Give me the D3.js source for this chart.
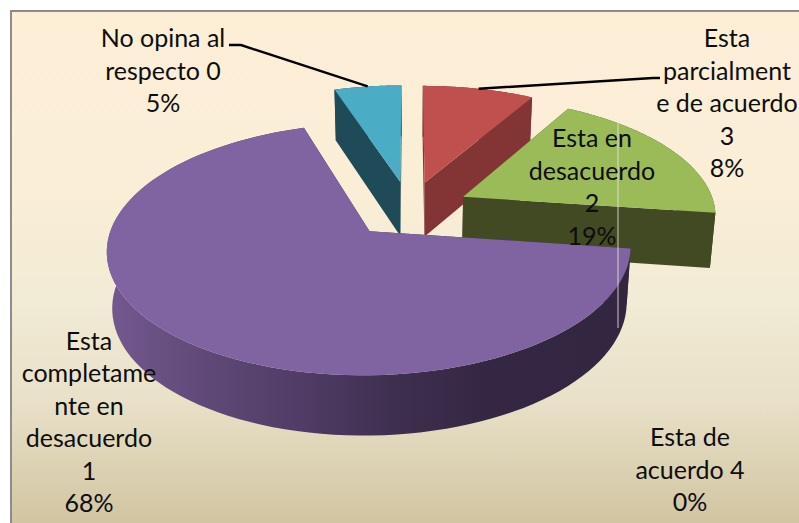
<!DOCTYPE html>
<html><head><meta charset="utf-8">
<script src="https://cdn.jsdelivr.net/npm/d3@7"></script>
<style>html,body{margin:0;padding:0;background:#fff}svg{display:block}text{font-family:Lato,"Open Sans",sans-serif;font-size:25px;fill:#0d0d0d;text-anchor:middle}</style>
</head><body><svg id="c" width="799" height="523"></svg>
<script>
const categories = ["No opina al respecto 0","Esta parcialmente de acuerdo 3","Esta en desacuerdo 2","Esta completamente en desacuerdo 1","Esta de acuerdo 4"];
const values = [5, 8.3, 18.9, 67.8, 0];
const topColors = ["#4BACC6","#C0504D","#9BBB59","#8064A2","#F79646"];
const wallColors = ["#1F4A57","#833535","#424A24","#3A2C4C","#8A5220"];
const labelLines = [
  ["No opina al","respecto 0","5%"],
  ["Esta","parcialment","e de acuerdo","3","8%"],
  ["Esta en","desacuerdo","2","19%"],
  ["Esta","completame","nte en","desacuerdo","1","68%"],
  ["Esta de","acuerdo 4","0%"]
];
const labelAnchors = [[163,47],[727,47],[592,147],[89,349.5],[690,446]];
const lineHeight = 32.5;

const W = 799, H = 523;
const rad = Math.PI/180;
const svg = d3.select("#c");
const defs = svg.append("defs");
const bg = defs.append("linearGradient").attr("id","bg").attr("x1",0).attr("x2",0).attr("y1",0).attr("y2",1);
[[0,"#FDEFD6"],[0.32,"#FBEED6"],[0.55,"#F2EBD5"],[0.75,"#E8E0C7"],[1,"#CFC29E"]].forEach(s=>bg.append("stop").attr("offset",s[0]).attr("stop-color",s[1]));
const wg = defs.append("linearGradient").attr("id","wall3").attr("gradientUnits","userSpaceOnUse").attr("x1",110).attr("x2",630).attr("y1",0).attr("y2",0);
[[0,"#73588F"],[0.2,"#5E4876"],[0.37,"#503C66"],[0.55,"#3E2F4E"],[0.72,"#342744"],[1,"#332640"]].forEach(s=>wg.append("stop").attr("offset",s[0]).attr("stop-color",s[1]));

svg.append("rect").attr("x",11).attr("y",11).attr("width",W).attr("height",H).attr("fill","url(#bg)").attr("stroke","#8C8C8C").attr("stroke-width",2);

// perspective projection of the pie plane
const cx=409.5, cy=209, Rx=252.5, Ry=117.2, persp=0.14, explode=0.24, depth=55, shrink=0.982;
const s = Y => 1/(1+persp*Y);
const topPt = (X,Y) => [cx+Rx*X*s(Y), cy-Ry*Y*s(Y)];
const botPt = (X,Y) => [cx+shrink*Rx*X*s(Y), cy-Ry*Y*s(Y)+depth*Math.sqrt(s(Y))];

const pie = d3.pie().sort(null).value(d=>d).startAngle(-18*rad).endAngle(342*rad);
const arcs = pie(values);
const line = d3.line();

arcs.forEach((a,i)=>{
  if(a.endAngle-a.startAngle<=0) return;
  const mid=(a.startAngle+a.endAngle)/2;
  const ox=explode*Math.sin(mid), oy=explode*Math.cos(mid);
  const angs=d3.range(0,101).map(k=>a.startAngle+(a.endAngle-a.startAngle)*k/100);
  const rim=angs.map(t=>[ox+Math.sin(t),oy+Math.cos(t)]);
  const g=svg.append("g").attr("class","slice");
  const topP=p=>topPt(p[0],p[1]), botP=p=>botPt(p[0],p[1]);
  const c=[ox,oy];
  const wall=(i===3)?"url(#wall3)":wallColors[i];
  [rim[0],rim[100]].forEach(p=>{
    g.append("path").attr("d",line([topP(p),topP(c),botP(c),botP(p)])+"Z").attr("fill",wall==="url(#wall3)"?wallColors[3]:wall);
  });
  g.append("path").attr("d",line(rim.map(topP).concat(rim.map(botP).reverse()))+"Z").attr("fill",wall);
  g.append("path").attr("d",line([topP(c)].concat(rim.map(topP)))+"Z").attr("fill",topColors[i]);
});

// thin light seam
svg.append("line").attr("x1",618).attr("x2",618).attr("y1",122).attr("y2",328).attr("stroke","#E9E6DC").attr("stroke-width",1).attr("opacity",0.85);

// leader lines, anchored on the rim midpoint of their slices
function rimMid(i){const a=arcs[i],m=(a.startAngle+a.endAngle)/2;return topPt((1+explode)*Math.sin(m),(1+explode)*Math.cos(m));}
svg.append("path").attr("d",line([[229,45],[241,45],rimMid(0)])).attr("fill","none").attr("stroke","#000").attr("stroke-width",2.4);
svg.append("path").attr("d",line([rimMid(1),[653,78],[660,78]])).attr("fill","none").attr("stroke","#000").attr("stroke-width",2.4);

labelLines.forEach((ls,i)=>{
  const t=svg.append("text").attr("class","lbl");
  ls.forEach((l,j)=>t.append("tspan").attr("x",labelAnchors[i][0]).attr("y",labelAnchors[i][1]+j*lineHeight).text(l));
});
</script></body></html>
